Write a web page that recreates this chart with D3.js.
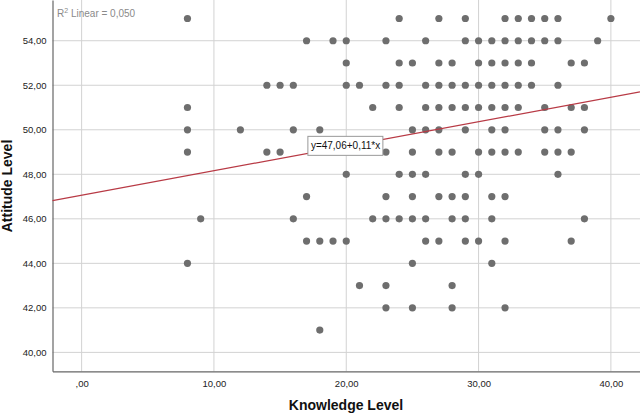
<!DOCTYPE html>
<html>
<head>
<meta charset="utf-8">
<script src="https://cdn.jsdelivr.net/npm/d3@7"></script>
<style>
  body { margin: 0; background: #fff; }
  svg { display: block; font-family: "Liberation Sans", Arial, sans-serif; }
</style>
</head>
<body>
<div id="root"></div>
<script>
// attitude level of each row of dots, and the knowledge levels found on that row
const attitudeLevels = [55, 54, 53, 52, 51, 50, 49, 48, 47, 46, 45, 44, 43, 42, 41];
const knowledgeByRow = [
  [8, 24, 27, 29, 32, 33, 34, 35, 36, 40],
  [17, 19, 20, 23, 26, 29, 30, 31, 32, 33, 34, 35, 36, 39],
  [20, 24, 25, 27, 28, 30, 31, 32, 33, 34, 37, 38],
  [14, 15, 16, 20, 21, 23, 24, 26, 27, 28, 29, 30, 31, 32, 33, 34, 36],
  [8, 22, 24, 26, 27, 28, 29, 30, 31, 32, 33, 35, 37, 38],
  [8, 12, 16, 18, 25, 26, 27, 29, 31, 32, 35, 36, 38],
  [8, 14, 15, 23, 25, 27, 28, 30, 31, 32, 33, 35, 36, 37],
  [20, 24, 25, 26, 29, 30, 36],
  [17, 23, 25, 27, 28, 29, 31, 32],
  [9, 16, 22, 23, 24, 25, 26, 28, 29, 31, 38],
  [17, 18, 19, 20, 26, 27, 29, 30, 32, 37],
  [8, 25, 31],
  [21, 23, 28],
  [23, 25, 28, 32],
  [18]
];

const xTicks = [0, 10, 20, 30, 40];
const yTicks = [40, 42, 44, 46, 48, 50, 52, 54];

const intercept = 47.06, slope = 0.11;
const rSquared = "0,050";
const equationText = "y=47,06+0,11*x";

const width = 640, height = 415;
const left = 52.5, bottom = 371.3;

const points = [];
attitudeLevels.forEach((a, i) => knowledgeByRow[i].forEach(k => points.push({ k, a })));

const x = d3.scaleLinear().domain([-2.2, 42.2]).range([left, width]);
const y = d3.scaleLinear().domain([39.15, 55.83]).range([bottom, 0]);

const fmt = v => (v === 0 ? ",00" : d3.format(".2f")(v).replace(".", ","));

const svg = d3.select("#root").append("svg")
  .attr("width", width)
  .attr("height", height);

// grid
svg.append("g").selectAll("line")
  .data(yTicks).enter().append("line")
  .attr("x1", left).attr("x2", width)
  .attr("y1", d => y(d)).attr("y2", d => y(d))
  .attr("stroke", "#d2d2d2").attr("stroke-width", 1);

svg.append("g").selectAll("line")
  .data(xTicks).enter().append("line")
  .attr("y1", 0).attr("y2", bottom)
  .attr("x1", d => x(d)).attr("x2", d => x(d))
  .attr("stroke", "#d2d2d2").attr("stroke-width", 1);

// axes
const xAxis = svg.append("g")
  .attr("transform", "translate(0," + bottom + ")")
  .call(d3.axisBottom(x).tickValues(xTicks).tickFormat(fmt).tickSize(0).tickPadding(9));
const yAxis = svg.append("g")
  .attr("transform", "translate(" + left + ",0)")
  .call(d3.axisLeft(y).tickValues(yTicks).tickFormat(fmt).tickSize(0).tickPadding(6));

[xAxis, yAxis].forEach(g => {
  g.select(".domain").attr("stroke", "#666").attr("stroke-width", 1.2);
  g.selectAll("text").attr("font-size", 9.5).attr("fill", "#222")
    .attr("font-family", "'Liberation Sans', Arial, sans-serif");
});

// dots
svg.append("g").selectAll("circle")
  .data(points).enter().append("circle")
  .attr("cx", d => x(d.k))
  .attr("cy", d => y(d.a))
  .attr("r", 3.6)
  .attr("fill", "#6e6e6e");

// fit line
const xd = x.domain();
svg.append("line")
  .attr("x1", x(xd[0])).attr("y1", y(intercept + slope * xd[0]))
  .attr("x2", x(xd[1])).attr("y2", y(intercept + slope * xd[1]))
  .attr("stroke", "#b83a45").attr("stroke-width", 1.2);

// equation label
const lx = 17.1;
const bx = x(lx), by = y(intercept + slope * lx) + 2;
const eq = svg.append("g").attr("transform", "translate(" + bx + "," + by + ")");
eq.append("rect")
  .attr("x", 0).attr("y", -19).attr("width", 75).attr("height", 19)
  .attr("fill", "#fff").attr("stroke", "#999").attr("stroke-width", 1);
eq.append("text")
  .attr("x", 3).attr("y", -6)
  .attr("font-size", 10).attr("fill", "#111")
  .text(equationText);

// R squared
const r2 = svg.append("text")
  .attr("x", 57).attr("y", 17)
  .attr("font-size", 10).attr("fill", "#8a8a8a");
r2.append("tspan").text("R");
r2.append("tspan").attr("font-size", 7).attr("dy", -4).text("2");
r2.append("tspan").attr("dy", 4).text(" Linear = " + rSquared);

// axis titles
svg.append("text")
  .attr("x", 346).attr("y", 410)
  .attr("text-anchor", "middle")
  .attr("font-size", 14).attr("font-weight", "bold").attr("fill", "#111")
  .text("Knowledge Level");

svg.append("text")
  .attr("transform", "translate(12,186) rotate(-90)")
  .attr("text-anchor", "middle")
  .attr("font-size", 14).attr("font-weight", "bold").attr("fill", "#111")
  .text("Attitude Level");
</script>
</body>
</html>
